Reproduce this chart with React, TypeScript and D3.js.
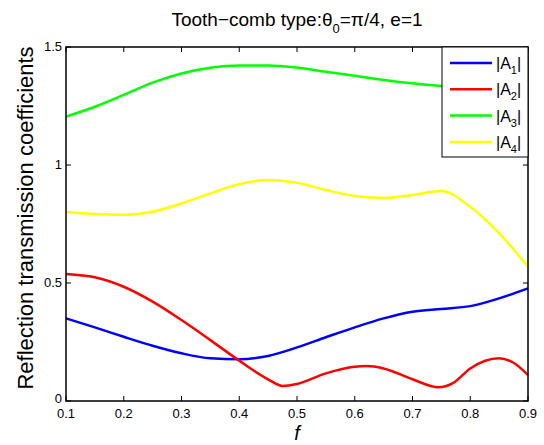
import React, { useEffect, useRef } from 'react'
import * as d3 from 'd3'

// frequency samples
const fValues = [0.1, 0.15, 0.2, 0.25, 0.3, 0.35, 0.4, 0.45, 0.5, 0.55, 0.6, 0.65, 0.7, 0.75, 0.8, 0.85, 0.9];

// |A1| .. |A4|
const a1 = [0.350, 0.312, 0.272, 0.234, 0.202, 0.181, 0.177, 0.191, 0.227, 0.270, 0.312, 0.350, 0.378, 0.390, 0.402, 0.435, 0.477];
const a3 = [1.205, 1.247, 1.297, 1.349, 1.388, 1.412, 1.422, 1.422, 1.413, 1.395, 1.378, 1.360, 1.346, 1.335, 1.330, 1.327, 1.328];
const a4 = [0.801, 0.792, 0.789, 0.802, 0.837, 0.880, 0.919, 0.936, 0.925, 0.894, 0.869, 0.860, 0.873, 0.890, 0.823, 0.711, 0.569];

// red curve has more wiggles, so it gets its own sample points
const fRed = [0.1, 0.15, 0.2, 0.25, 0.3, 0.35, 0.4, 0.45, 0.475, 0.5, 0.55, 0.6, 0.62, 0.65, 0.7, 0.745, 0.77, 0.8, 0.85, 0.875, 0.9];
const a2 = [0.538, 0.524, 0.484, 0.421, 0.343, 0.258, 0.171, 0.092, 0.064, 0.072, 0.117, 0.145, 0.148, 0.138, 0.092, 0.058, 0.076, 0.138, 0.181, 0.162, 0.110];

const xTicks = [0.1, 0.2, 0.3, 0.4, 0.5, 0.6, 0.7, 0.8, 0.9];
const yTicks = [0, 0.5, 1, 1.5];
const seriesNames = ['1', '2', '3', '4'];
const seriesColors = ['#0000ff', '#ff0000', '#00ff00', '#ffff00'];

const W = 544;
const H = 445;
const margin = {top: 47, right: 16, bottom: 44, left: 66};

export default function App() {
  const ref = useRef<SVGSVGElement>(null);

  useEffect(() => {
    const svg = d3.select(ref.current);
    svg.selectAll('*').remove();
    const w = W - margin.left - margin.right;
    const h = H - margin.top - margin.bottom;
    const font = 'Liberation Sans, Arial, Helvetica, sans-serif';

    const x = d3.scaleLinear().domain([0.1, 0.9]).range([0, w]);
    const y = d3.scaleLinear().domain([0, 1.5]).range([h, 0]);

    svg.append('rect').attr('width', W).attr('height', H).attr('fill', '#fff');

    const g = svg.append('g').attr('transform', `translate(${margin.left},${margin.top})`);

    const series = [
      {xs: fValues, ys: a1},
      {xs: fRed, ys: a2},
      {xs: fValues, ys: a3},
      {xs: fValues, ys: a4},
    ];

    const line = d3.line<[number, number]>()
      .x(d => x(d[0]))
      .y(d => y(d[1]))
      .curve(d3.curveMonotoneX);

    series.forEach((s, i) => {
      const pts = s.xs.map((f, j) => [f, s.ys[j]] as [number, number]);
      g.append('path')
        .attr('d', line(pts))
        .attr('fill', 'none')
        .attr('stroke', seriesColors[i])
        .attr('stroke-width', 2.5);
    });

    // box
    g.append('rect')
      .attr('width', w).attr('height', h)
      .attr('fill', 'none').attr('stroke', '#000').attr('stroke-width', 1.5);

    // ticks (inside, all four sides like matlab)
    const tl = 5;
    xTicks.forEach(t => {
      g.append('line').attr('x1', x(t)).attr('x2', x(t)).attr('y1', h).attr('y2', h - tl).attr('stroke', '#000');
      g.append('line').attr('x1', x(t)).attr('x2', x(t)).attr('y1', 0).attr('y2', tl).attr('stroke', '#000');
      g.append('text')
        .attr('x', x(t)).attr('y', h + 17)
        .attr('text-anchor', 'middle')
        .attr('font-family', font).attr('font-size', 13)
        .text(String(t));
    });
    yTicks.forEach(t => {
      g.append('line').attr('x1', 0).attr('x2', tl).attr('y1', y(t)).attr('y2', y(t)).attr('stroke', '#000');
      g.append('line').attr('x1', w).attr('x2', w - tl).attr('y1', y(t)).attr('y2', y(t)).attr('stroke', '#000');
      g.append('text')
        .attr('x', -4).attr('y', y(t) + (t === 0 ? 2 : 4))
        .attr('text-anchor', 'end')
        .attr('font-family', font).attr('font-size', 13)
        .text(String(t));
    });

    // legend
    const lg = g.append('g').attr('transform', `translate(${w - 86},0)`);
    lg.append('rect').attr('width', 86).attr('height', 110)
      .attr('fill', '#fff').attr('stroke', '#000').attr('stroke-width', 1);
    seriesNames.forEach((n, i) => {
      const yy = 16 + i * 26.3;
      lg.append('line').attr('x1', 8).attr('x2', 50).attr('y1', yy).attr('y2', yy)
        .attr('stroke', seriesColors[i]).attr('stroke-width', 2.5);
      const t = lg.append('text').attr('x', 54).attr('y', yy + 6)
        .attr('font-family', font).attr('font-size', 16);
      t.append('tspan').text('|A');
      t.append('tspan').attr('font-size', 11).attr('dy', 5).text(n);
      t.append('tspan').attr('dy', -5).text('|');
    });

    // title
    const title = svg.append('text')
      .attr('x', margin.left + w / 2).attr('y', 26)
      .attr('text-anchor', 'middle')
      .attr('font-family', font).attr('font-size', 19);
    title.append('tspan').text('Tooth\u2212comb type:\u03b8');
    title.append('tspan').attr('font-size', 13).attr('dy', 7).text('0');
    title.append('tspan').attr('dy', -7).text('=\u03c0/4, e=1');

    // axis labels
    svg.append('text')
      .attr('x', margin.left + w / 2).attr('y', 440)
      .attr('text-anchor', 'middle')
      .attr('font-family', font).attr('font-size', 20).attr('font-style', 'italic')
      .text('f');
    svg.append('text')
      .attr('transform', `translate(33,218) rotate(-90)`)
      .attr('text-anchor', 'middle')
      .attr('font-family', font).attr('font-size', 22)
      .text('Reflection transmission coefficients');
  }, []);

  return (
    <svg ref={ref} width={W} height={H}
      style={{position: 'absolute', left: 0, top: 0}} />
  );
}
